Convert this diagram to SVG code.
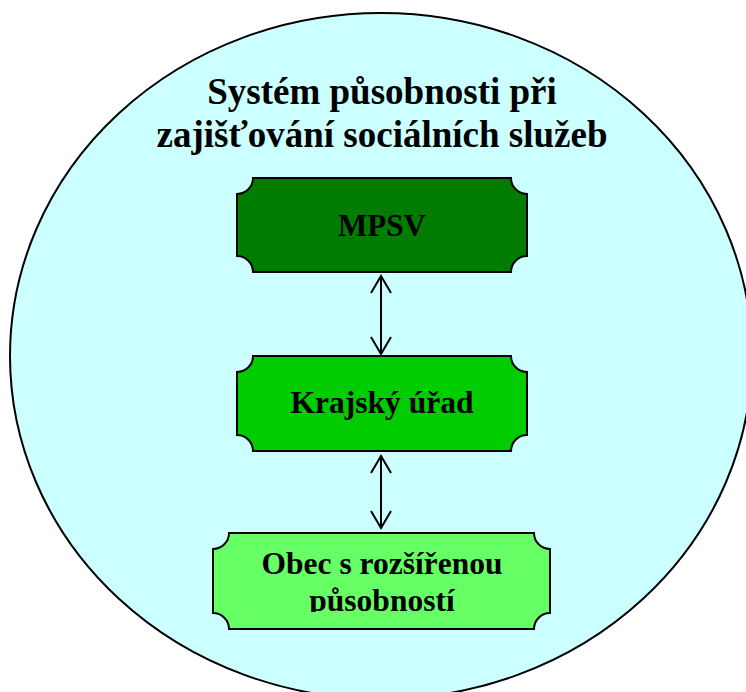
<svg xmlns="http://www.w3.org/2000/svg" width="746" height="692" viewBox="0 0 746 692">
<style>
.box{stroke:#000;stroke-width:2}
.t{font-family:"Liberation Serif","Times New Roman",serif;font-weight:bold;fill:#000;text-anchor:middle}
.conn{stroke:#000;stroke-width:2;fill:none;stroke-linejoin:miter}
</style>
<defs>
<clipPath id="obecClip"><rect x="213" y="533" width="337" height="79"/></clipPath>
</defs>
<rect width="746" height="692" fill="#fff"/>
<g id="background">
<ellipse cx="381" cy="356" rx="371" ry="343" fill="#CCFFFF" stroke="#000" stroke-width="2"/>
<text class="t" x="382" y="104" font-size="37">Systém působnosti při</text>
<text class="t" x="382" y="147" font-size="37">zajišťování sociálních služeb</text>
</g>
<g id="connectors">
<path class="conn" d="M381,276 V354 M371,293 L381,276 L391,293 M371,337 L381,354 L391,337"/>
<path class="conn" d="M381,456 V528 M371,473 L381,456 L391,473 M371,511 L381,528 L391,511"/>
</g>
<g id="mpsv">
<path class="box" fill="#007D00" d="M253,178 H511 A16,16 0 0 0 527,194 V256 A16,16 0 0 0 511,272 H253 A16,16 0 0 0 237,256 V194 A16,16 0 0 0 253,178 Z"/>
<text class="t" x="382" y="236" font-size="31">MPSV</text>
</g>
<g id="krajsky-urad">
<path class="box" fill="#00CC00" d="M253,356 H511 A16,16 0 0 0 527,372 V435 A16,16 0 0 0 511,451 H253 A16,16 0 0 0 237,435 V372 A16,16 0 0 0 253,356 Z"/>
<text class="t" x="382" y="413" font-size="31.5">Krajský úřad</text>
</g>
<g id="obec">
<path class="box" fill="#66FF66" d="M229,533 H534 A16,16 0 0 0 550,549 V613 A16,16 0 0 0 534,629 H229 A16,16 0 0 0 213,613 V549 A16,16 0 0 0 229,533 Z"/>
<g clip-path="url(#obecClip)">
<text class="t" x="382" y="574" font-size="31.5">Obec s rozšířenou</text>
<text class="t" x="382" y="611" font-size="31.5">působností</text>
</g>
</g>
</svg>
